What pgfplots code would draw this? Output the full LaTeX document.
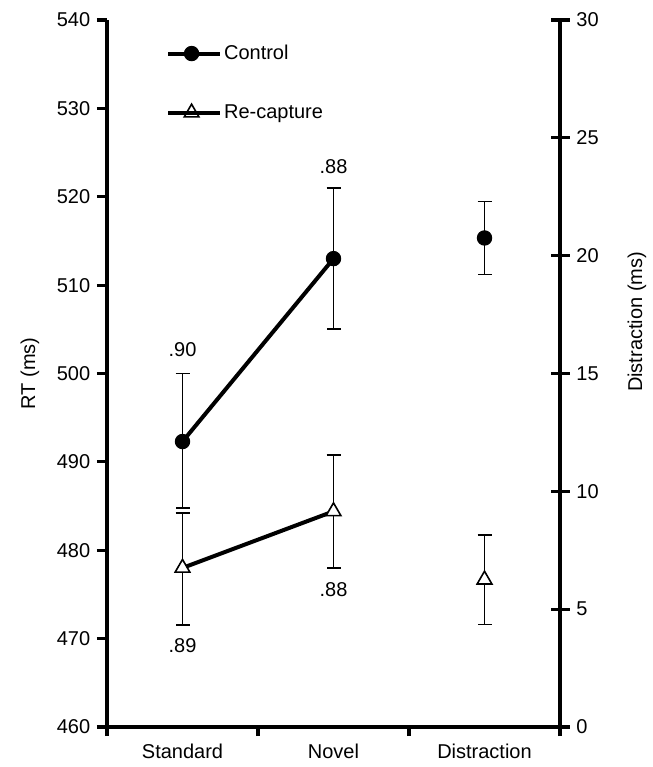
\documentclass[border=0pt]{standalone}
\usepackage{fontspec}
\setmainfont{Liberation Sans}
\usepackage{pgfplots}
\pgfplotsset{compat=1.18}

\begin{document}
\fontsize{20bp}{24bp}\selectfont
\begin{tikzpicture}
\pgfplotsset{
  every axis/.append style={
    scale only axis, width=453bp, height=707bp,
    xmin=-0.5, xmax=2.5,
    font=\fontsize{20bp}{24bp}\selectfont,
    /pgf/number format/assume math mode=true,
    axis line style={-, line width=3.2bp},
    tick style={line width=3.2bp, black},
    clip=false,
  },
  errs/.style={
    error bars/.cd, y dir=both, y explicit,
    error bar style={line width=1.8bp, black},
    error mark options={rotate=90, mark size=7bp, line width=1.8bp, black},
  },
}
% left axis: RT
\begin{axis}[name=ax,
  axis x line*=bottom, axis y line*=left,
  ymin=460, ymax=540, ytick={460,470,...,540},
  xtick={0,1,2}, xticklabels={Standard,Novel,Distraction},
  minor xtick={-0.5,0.5,1.5,2.5},
  major x tick style={draw=none},
  tick align=outside, major tick length=10bp, minor tick length=9bp,
  ylabel={RT (ms)},
  ylabel style={at={(axis description cs:-0.17,0.5)}, anchor=center},
  legend style={draw=none, fill=none, at={(axis description cs:0.13,0.968)},
    anchor=north west, row sep=38bp, inner sep=0pt},
  legend cell align=left,
  legend image code/.code={
    \draw[line width=3bp] (0bp,0bp) -- (47bp,0bp);
    \draw plot coordinates {(23.5bp,0bp)};
    \path (0bp,0bp) -- (52bp,0bp);
  },
]
\addplot[black, line width=4bp, mark=*, mark size=7.2bp,
  mark options={fill=black, line width=1bp}, errs]
  coordinates {(0,492.3) += (0,7.7) -= (0,7.5) (1,513.0) +- (0,8.0)};
\addlegendentry{Control}
\addplot[black, line width=4bp, mark=triangle*, mark size=8.5bp,
  mark options={fill=white, line width=1.6bp}, errs]
  coordinates {(0,478.0) += (0,6.25) -= (0,6.5) (1,484.4) +- (0,6.4)};
\addlegendentry{Re-capture}
\node at (axis cs:0,502.7) {.90};
\node at (axis cs:1,523.4) {.88};
\node at (axis cs:0,469.2) {.89};
\node at (axis cs:1,475.6) {.88};
\end{axis}
% right axis: distraction effect
\begin{axis}[
  axis x line=none, axis y line*=right,
  ymin=0, ymax=30, ytick={0,5,...,30},
  tick align=center, major tick length=19bp,
  ylabel={Distraction (ms)},
  ylabel style={at={(axis description cs:1.17,0.573)}, anchor=center},
]
\addplot[black, only marks, mark=*, mark size=7.2bp,
  mark options={fill=black, line width=1bp}, errs]
  coordinates {(2,20.75) +- (0,1.55)};
\addplot[black, only marks, mark=triangle*, mark size=8.5bp,
  mark options={fill=white, line width=1.6bp}, errs]
  coordinates {(2,6.25) +- (0,1.9)};
\end{axis}
\path ([shift={(-107bp,-40bp)}]ax.south west) rectangle ([shift={(89bp,20bp)}]ax.north east);
\end{tikzpicture}
\end{document}
